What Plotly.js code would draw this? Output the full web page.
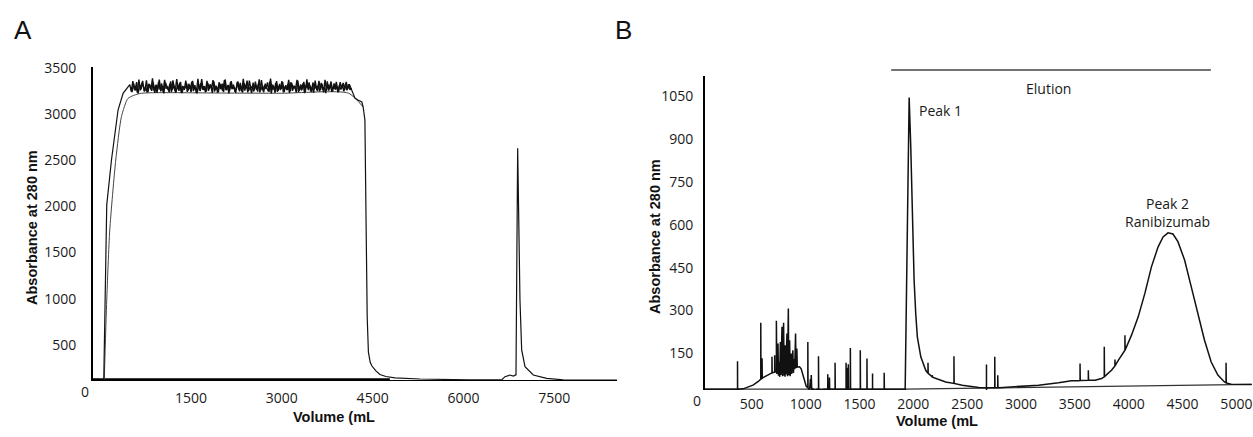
<!DOCTYPE html>
<html>
<head>
<meta charset="utf-8">
<script src="https://cdn.plot.ly/plotly-3.0.1.min.js"></script>
<style>
  html, body { margin: 0; padding: 0; background: #ffffff; }
  #chart { width: 1253px; height: 437px; }
</style>
</head>
<body>
<div id="chart"></div>
<script>
// ---- Panel A: sample loading, absorbance at 280 nm vs volume (mL) ----
// rising front of the recorded trace
const riseVolA = [58, 91, 107, 185, 294, 377, 488];
const riseAbsA = [119, 1494, 2014, 2501, 3042, 3223, 3318];

// saturated plateau in two interleaved passes
// (one reading every 25 mL each, second pass shifted by half a step)
const plateauStartA = 488;
const plateauStepA = 25;
const plateauAbsA = [
  3318, 3242, 3356, 3265, 3301, 3230, 3372, 3254, 3339, 3281, 3247, 3364, 3236, 3322, 3270, 3385, 3251, 3308, 3228, 3347,
  3262, 3331, 3240, 3369, 3275, 3296, 3233, 3352, 3258, 3315, 3244, 3376, 3267, 3337, 3229, 3303, 3260, 3361, 3238, 3326,
  3273, 3349, 3246, 3311, 3226, 3381, 3256, 3334, 3266, 3298, 3235, 3358, 3250, 3320, 3279, 3367, 3241, 3306, 3231, 3343,
  3269, 3327, 3237, 3373, 3259, 3313, 3248, 3354, 3272, 3291, 3227, 3346, 3263, 3336, 3245, 3379, 3253, 3317, 3234, 3360,
  3276, 3302, 3243, 3350, 3261, 3328, 3232, 3366, 3255, 3309, 3271, 3341, 3239, 3383, 3264, 3297, 3229, 3355, 3249, 3324,
  3268, 3345, 3236, 3312, 3257, 3370, 3244, 3333, 3277, 3300, 3230, 3362, 3252, 3319, 3266, 3348, 3240, 3375, 3258, 3310,
  3235, 3340, 3270, 3304, 3247, 3357, 3261, 3325, 3233, 3368, 3254, 3316, 3274, 3351, 3242, 3330, 3263, 3299, 3238, 3344,
  3282, 3335, 3260, 3348, 3270, 3322, 3285
];
const plateauStartA2 = 500.5;
const plateauAbsA2 = [
  3290, 3236, 3331, 3252, 3344, 3221, 3309, 3268, 3357, 3243, 3296, 3232, 3325, 3279, 3250, 3338, 3227, 3317, 3262, 3371,
  3245, 3303, 3222, 3340, 3284, 3256, 3329, 3239, 3363, 3271, 3230, 3312, 3249, 3346, 3225, 3295, 3277, 3334, 3253, 3305,
  3237, 3359, 3266, 3288, 3224, 3321, 3247, 3377, 3259, 3299, 3241, 3336, 3270, 3314, 3228, 3352, 3263, 3292, 3234, 3328,
  3282, 3248, 3365, 3257, 3307, 3223, 3343, 3269, 3318, 3238, 3285, 3351, 3244, 3300, 3231, 3332, 3274, 3360, 3251, 3293,
  3226, 3339, 3264, 3310, 3242, 3374, 3255, 3297, 3235, 3327, 3280, 3247, 3349, 3222, 3316, 3261, 3337, 3240, 3302, 3258,
  3356, 3233, 3289, 3273, 3323, 3228, 3345, 3250, 3306, 3266, 3368, 3237, 3298, 3254, 3330, 3224, 3313, 3278, 3342, 3246,
  3294, 3231, 3361, 3260, 3308, 3243, 3335, 3267, 3287, 3225, 3353, 3252, 3320, 3239, 3296, 3272, 3347, 3234, 3311, 3265,
  3305, 3244, 3329, 3256, 3318, 3262, 3280
];

// wash-out, flow-through tail and the strip peak near 6900 mL
const tailVolA = [4138, 4207, 4256, 4322, 4343, 4372, 4392, 4410, 4430, 4460, 4488, 4554, 4620, 4719, 4868, 5281, 6107,
                  6631, 6686, 6769, 6823, 6851, 6868, 6896, 6922, 6934, 6962, 7017, 7154, 7375, 7650, 8537];
const tailAbsA = [3285, 3172, 3151, 3129, 3075, 2934, 1800, 800, 420, 310, 270, 217, 179, 157, 143, 130, 121,
                  120, 155, 173, 162, 173, 175, 2628, 1707, 985, 444, 263, 173, 137, 121, 119];

// second, smoother trace underneath
const smoothVolA = [66, 107, 157, 256, 350, 460, 653, 929, 2000, 3000, 4100, 4343];
const smoothAbsA = [119, 985, 1743, 2501, 2970, 3169, 3221, 3230, 3226, 3224, 3225, 3075];

// heavy baseline drawn during loading
const baseVolA = [-120, 4785];
const baseAbsA = [120, 120];

const xTicksA = [1500, 3000, 4500, 6000, 7500];
const yTicksA = [500, 1000, 1500, 2000, 2500, 3000, 3500];

// ---- Panel B: elution, absorbance at 280 nm vs volume (mL) ----
const volB = [
  65, 367, 367, 368, 370, 419, 470, 511, 560, 583, 583, 585, 595, 595, 597, 604, 650, 682, 687, 687, 689,
  712, 712, 714, 728, 728, 732, 743, 747, 755, 759, 765, 770, 780, 785, 795, 800, 805, 808, 811, 816,
  826, 831, 839, 843, 851, 856, 862, 866, 870, 881, 886, 894, 898, 906, 910, 918, 922, 943, 958, 971,
  990, 1005, 1020, 1020, 1022, 1036, 1044, 1048, 1052, 1056, 1066, 1070, 1090, 1100, 1119, 1119, 1121, 1150, 1170,
  1205, 1205, 1208, 1221, 1221, 1223, 1273, 1273, 1275, 1340, 1375, 1375, 1377, 1385, 1385, 1387, 1396, 1396, 1398,
  1415, 1415, 1417, 1507, 1507, 1509, 1569, 1569, 1571, 1621, 1621, 1621, 1623, 1729, 1729, 1731,
  1924, 1961, 1976, 1991, 2007, 2022, 2037, 2069, 2115, 2136, 2136, 2138, 2176, 2176, 2178, 2300, 2377, 2377, 2379,
  2454, 2608, 2679, 2679, 2679, 2681, 2756, 2756, 2758, 2784, 2784, 2786, 2800, 3163, 3348, 3468, 3533,
  3548, 3548, 3550, 3625, 3625, 3627, 3687, 3748, 3773, 3773, 3775, 3840, 3872, 3872, 3874, 3903,
  3965, 3965, 3967, 4026, 4088, 4150, 4211, 4273, 4319, 4365, 4411, 4457, 4519, 4581, 4643, 4704,
  4766, 4828, 4889, 4904, 4904, 4906, 4951, 5140
];
const absB = [
  25, 25, 123, 12, 25, 26, 33, 39, 52, 60, 257, 60, 63, 133, 63, 65, 75, 81, 82, 138, 82,
  85, 144, 85, 86, 264, 78, 185, 72, 120, 68, 190, 75, 243, 70, 257, 72, 140, 68, 179, 76,
  220, 70, 307, 74, 196, 70, 120, 150, 78, 161, 82, 130, 95, 220, 98, 167, 102, 103, 96, 80,
  52, 35, 30, 190, 30, 22, 60, 28, 74, 26, 4, 25, 20, 25, 25, 140, 25, 23, 25,
  25, 77, 25, 25, 66, 25, 25, 117, 25, 25, 25, 117, 25, 25, 100, 25, 25, 112, 25,
  25, 169, 25, 25, 161, 25, 25, 132, 25, 25, 80, 4, 25, 25, 82, 25,
  25, 1046, 873, 640, 406, 290, 208, 138, 91, 80, 117, 80, 68, 74, 67, 50, 45, 140, 45,
  39, 31, 30, 111, 12, 30, 30, 138, 30, 30, 74, 30, 30, 39, 47, 54, 54,
  55, 115, 55, 56, 91, 56, 56, 62, 68, 173, 69, 91, 106, 129, 107, 126,
  161, 214, 162, 214, 278, 360, 453, 523, 558, 572, 568, 541, 477, 383, 290, 196,
  120, 74, 50, 47, 117, 47, 42, 41
];

// integration baseline under the elution trace
const baseVolB = [65, 1924, 5145];
const baseAbsB = [25, 25, 42];

// elution window marked above the plot
const elutionStartB = 1794;
const elutionEndB = 4763;

const xTicksB = [500, 1000, 1500, 2000, 2500, 3000, 3500, 4000, 4500, 5000];
const yTicksB = [150, 300, 450, 600, 750, 900, 1050];

// ---- drawing ----
const W = 1253, H = 437;
const px = x => x / W;
const py = y => 1 - y / H;

const tickFont = { family: 'Open Sans, Noto Sans, sans-serif', size: 14, color: '#1a1a1a' };
const boldFont = { family: 'Liberation Sans, Arial, sans-serif', size: 14.5, color: '#111111', weight: 'bold' };
const noteFont = { family: 'Open Sans, Noto Sans, sans-serif', size: 14, color: '#1a1a1a' };

function stepVolumes(start, count) {
  const out = [];
  for (let i = 0; i < count; i++) out.push(start + i * plateauStepA);
  return out;
}

// paper-positioned text, always centred on the given pixel
function label(text, x, y, font, extra) {
  return Object.assign({
    text: text, xref: 'paper', yref: 'paper', x: px(x), y: py(y),
    xanchor: 'center', yanchor: 'middle', showarrow: false, font: font
  }, extra || {});
}

const data = [
  {
    x: baseVolA, y: baseAbsA, xaxis: 'x', yaxis: 'y',
    mode: 'lines', line: { color: '#000000', width: 3.5 }, hoverinfo: 'skip'
  },
  {
    x: smoothVolA, y: smoothAbsA, xaxis: 'x', yaxis: 'y',
    mode: 'lines', line: { color: '#444444', width: 1, shape: 'spline', smoothing: 0.6 }, hoverinfo: 'skip'
  },
  {
    x: riseVolA, y: riseAbsA, xaxis: 'x', yaxis: 'y',
    mode: 'lines', line: { color: '#111111', width: 1.2 }
  },
  {
    x: stepVolumes(plateauStartA, plateauAbsA.length), y: plateauAbsA, xaxis: 'x', yaxis: 'y',
    mode: 'lines', line: { color: '#111111', width: 1.4 }
  },
  {
    x: stepVolumes(plateauStartA2, plateauAbsA2.length), y: plateauAbsA2, xaxis: 'x', yaxis: 'y',
    mode: 'lines', line: { color: '#111111', width: 1.4 }
  },
  {
    x: tailVolA, y: tailAbsA, xaxis: 'x', yaxis: 'y',
    mode: 'lines', line: { color: '#111111', width: 1.2 }
  },
  {
    x: baseVolB, y: baseAbsB, xaxis: 'x2', yaxis: 'y2',
    mode: 'lines', line: { color: '#333333', width: 1.2 }, hoverinfo: 'skip'
  },
  {
    x: volB, y: absB, xaxis: 'x2', yaxis: 'y2',
    mode: 'lines', line: { color: '#111111', width: 1.5 }
  }
];

const layout = {
  width: W, height: H,
  margin: { l: 0, r: 0, t: 0, b: 0 },
  showlegend: false,
  paper_bgcolor: '#ffffff',
  plot_bgcolor: '#ffffff',
  xaxis: {
    domain: [px(93), px(617)], range: [-120, 8537], anchor: 'y',
    tickvals: xTicksA, ticktext: xTicksA.map(String), tickfont: tickFont,
    showgrid: false, zeroline: false, showline: true, linecolor: '#000000', linewidth: 1,
    ticks: '', ticklabelstandoff: 5
  },
  yaxis: {
    domain: [py(380), py(67)], range: [119, 3508], anchor: 'x',
    tickvals: yTicksA, ticktext: yTicksA.map(String), tickfont: tickFont,
    showgrid: false, zeroline: false, showline: true, linecolor: '#000000', linewidth: 2,
    ticks: '', ticklabelstandoff: 12
  },
  xaxis2: {
    domain: [px(705), px(1252)], range: [65, 5145], anchor: 'y2',
    tickvals: xTicksB, ticktext: xTicksB.map(String), tickfont: tickFont,
    showgrid: false, zeroline: false, showline: false,
    ticks: '', ticklabelstandoff: 4, ticklabeloverflow: 'allow'
  },
  yaxis2: {
    domain: [py(390), py(76)], range: [22, 1121], anchor: 'x2',
    tickvals: yTicksB, ticktext: yTicksB.map(String), tickfont: tickFont,
    showgrid: false, zeroline: false, showline: true, linecolor: '#000000', linewidth: 2,
    ticks: '', ticklabelstandoff: 7
  },
  shapes: [
    {
      type: 'line', xref: 'x2', yref: 'paper',
      x0: elutionStartB, x1: elutionEndB, y0: py(70), y1: py(70),
      line: { color: '#444444', width: 1.5 }
    }
  ],
  annotations: [
    label('A', 23, 30, { family: 'Liberation Sans, Arial, sans-serif', size: 26, color: '#111111' }),
    label('B', 623, 30, { family: 'Liberation Sans, Arial, sans-serif', size: 26, color: '#111111' }),
    label('0', 85, 391, tickFont),
    label('0', 697, 400, tickFont),
    label('Absorbance at 280 nm', 32, 228, boldFont, { textangle: -90 }),
    label('Absorbance at 280 nm', 655, 237, boldFont, { textangle: -90 }),
    label('Volume (mL', 334, 417, boldFont),
    label('Volume (mL', 937, 421, boldFont),
    label('Elution', 1048, 88, noteFont),
    label('Peak 1', 917, 110, noteFont, { xanchor: 'left' }),
    label('Peak 2<br>Ranibizumab', 1167, 212, noteFont)
  ]
};

Plotly.newPlot('chart', data, layout, { displayModeBar: false, staticPlot: true });
</script>
</body>
</html>
